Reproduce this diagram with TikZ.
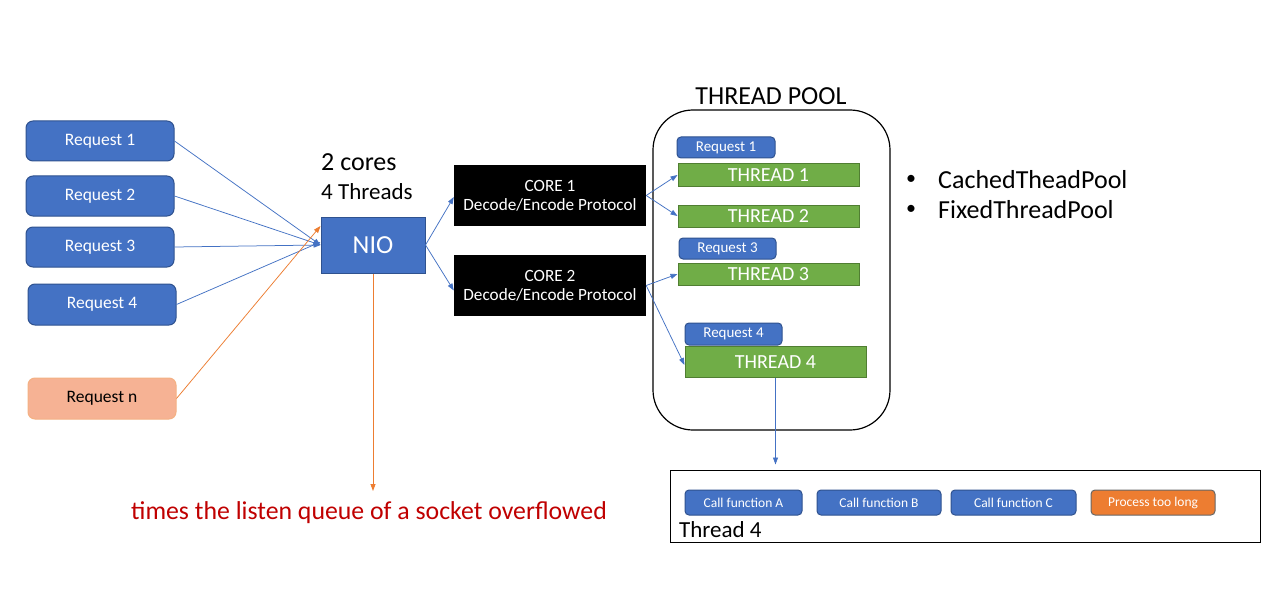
\documentclass[tikz,border=0pt]{standalone}
\usepackage{fontspec}
\setmainfont{Carlito}
\usetikzlibrary{arrows.meta,calc}
\definecolor{bblue}{HTML}{4472C4}
\definecolor{bborder}{HTML}{2F528F}
\definecolor{tgreen}{HTML}{70AD47}
\definecolor{gborder}{HTML}{507E32}
\definecolor{orng}{HTML}{ED7D31}
\definecolor{salmon}{HTML}{F6B294}
\definecolor{salmonb}{HTML}{F4B183}
\definecolor{darkred}{HTML}{C00000}
\newcommand{\fsz}[1]{\fontsize{#1}{#1}\selectfont}
\tikzset{
  reqbox/.style={draw=bborder, fill=bblue, line width=1pt, rounded corners=7pt, text=white, inner sep=0pt, minimum width=148pt, minimum height=40pt, font=\fsz{17.5}},
  reqnbox/.style={reqbox, draw=salmonb, fill=salmon, text=black},
  niobox/.style={draw=bborder, fill=bblue, line width=1pt, text=white, inner sep=0pt, minimum width=104pt, minimum height=56pt, font=\fsz{26}},
  corebox/.style={fill=black, text=white, inner sep=0pt, minimum width=192pt, minimum height=61pt, align=center, font=\fsz{17.2}},
  poolbox/.style={draw=black, line width=1.2pt, rounded corners=40pt, minimum width=237pt, minimum height=320pt, inner sep=0pt},
  sreq/.style={draw=bborder, fill=bblue, line width=1pt, rounded corners=4pt, text=white, inner sep=0pt, minimum width=97pt, minimum height=21pt, font=\fsz{15}},
  thr/.style={draw=gborder, fill=tgreen, line width=1pt, text=white, inner sep=0pt, minimum width=181pt, minimum height=22pt, font=\fsz{20}},
  callbox/.style={draw=bborder, fill=bblue, line width=1pt, rounded corners=4pt, text=white, inner sep=0pt, minimum height=25pt, font=\fsz{13.5}},
  procbox/.style={callbox, fill=orng, draw=gray!80!black},
  plain/.style={inner sep=0pt},
  conn/.style={draw=bblue, line width=0.75pt, -{Triangle[length=7pt,width=5pt]}},
  oconn/.style={draw=orng, line width=0.75pt, -{Triangle[length=7pt,width=5pt]}},
}
\begin{document}
\begin{tikzpicture}[x=1pt,y=-1pt]
\useasboundingbox[fill=white] (0,0) rectangle (1280,607);
% requests
\node[reqbox] (r1) at (100,141) {Request 1};
\node[reqbox] (r2) at (100,196) {Request 2};
\node[reqbox] (r3) at (100,247) {Request 3};
\node[reqbox, minimum height=41pt] (r4) at (102,304.5) {Request 4};
\node[reqnbox, minimum height=41pt] (rn) at (102,398.5) {Request n};
% NIO
\node[niobox] (nio) at (373,245) {NIO};
\node[plain, anchor=west, font=\fsz{26}] (cores) at (321,162) {2 cores};
\node[plain, anchor=west, font=\fsz{23}] (thr) at (321,192) {4 Threads};
% cores
\node[corebox] (c1) at (550,195.5) {CORE 1\\[2pt]Decode/Encode Protocol};
\node[corebox] (c2) at (550,285.5) {CORE 2\\[2pt]Decode/Encode Protocol};
% pool
\node[poolbox] (pool) at (771.5,270) {};
\node[plain, font=\fsz{26}] (pooll) at (771,96) {THREAD POOL};
\node[sreq, minimum width=98pt] (s1) at (726,147.5) {Request 1};
\node[thr] (t1) at (768.5,175) {THREAD 1};
\node[thr] (t2) at (768.5,216) {THREAD 2};
\node[sreq] (s3) at (727.5,248.5) {Request 3};
\node[thr] (t3) at (768.5,274) {THREAD 3};
\node[sreq, minimum height=22pt] (s4) at (733.5,334) {Request 4};
\node[thr, minimum height=31pt] (t4) at (775.5,362) {THREAD 4};
% bullets
\node[plain, font=\fsz{20}] (b1) at (911,180) {•};
\node[plain, font=\fsz{20}] (b2) at (911,210) {•};
\node[plain, anchor=west, font=\fsz{26}] (l1) at (938,180) {CachedTheadPool};
\node[plain, anchor=west, font=\fsz{26}] (l2) at (938,210) {FixedThreadPool};
% bottom
\node[draw=black, line width=1pt, minimum width=590pt, minimum height=72pt, inner sep=0pt] (bot) at (965,506) {};
\node[callbox, minimum width=117pt] (ca) at (743.5,502.5) {Call function A};
\node[callbox, minimum width=124pt] (cb) at (879,502.5) {Call function B};
\node[callbox, minimum width=125pt] (cc) at (1013.5,502.5) {Call function C};
\node[procbox, minimum width=124pt] (pr) at (1153,502.5) {Process too long};
\node[plain, anchor=west, font=\fsz{23}] (t4l) at (679,530) {Thread 4};
% red text
\node[plain, text=darkred, font=\fsz{25.8}] (red) at (369,513) {times the listen queue of a socket overflowed};
\coordinate (odown) at (373,491);
% connectors
\draw[conn] (r1.east) -- (nio.west);
\draw[conn] (r2.east) -- (nio.west);
\draw[conn] (r3.east) -- (nio.west);
\draw[conn] (r4.east) -- ([yshift=3pt]nio.west);
\draw[oconn] (rn.east) -- ([yshift=19pt]nio.west);
\draw[oconn] (nio.south) -- (odown);
\draw[conn] (nio.east) -- ([yshift=-1.5pt]c1.west);
\draw[conn] (nio.east) -- ([yshift=-5pt]c2.west);
\draw[conn] (c1.east) -- (t1.west);
\draw[conn] (c1.east) -- (t2.west);
\draw[conn] (c2.east) -- (t3.west);
\draw[conn] (c2.east) -- ([yshift=-3pt]t4.west);
\draw[conn, shorten >=5pt] (t4.south) -- (t4.south |- bot.north);
\end{tikzpicture}
\end{document}
